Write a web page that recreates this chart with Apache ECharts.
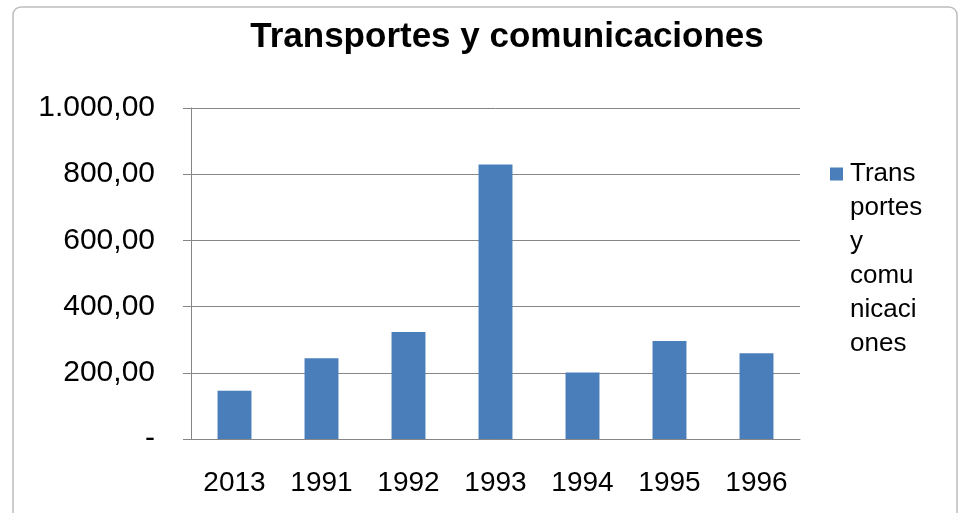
<!DOCTYPE html>
<html>
<head>
<meta charset="utf-8">
<script src="https://cdn.jsdelivr.net/npm/echarts@6/dist/echarts.min.js"></script>
<style>
  html, body { margin: 0; padding: 0; background: #fff; }
  #chart { width: 962px; height: 513px; }
</style>
</head>
<body>
<div id="chart"></div>
<script>
const title = 'Transportes y comunicaciones'
const categories = ['2013', '1991', '1992', '1993', '1994', '1995', '1996']
const values = [146, 244, 323, 829, 201, 296, 259]
const yTicks = [0, 200, 400, 600, 800, 1000]
const barColor = '#4a7ebb'

// 1.000,00 style, zero shown as a dash
function fmt(v) {
  if (v === 0) return '-'
  let parts = v.toFixed(2).split('.')
  parts[0] = parts[0].replace(/\B(?=(\d{3})+(?!\d))/g, '.')
  return parts.join(',')
}

let chart = echarts.init(document.getElementById('chart'))
let option = {
  animation: false,
  backgroundColor: '#fff',
  textStyle: { fontFamily: 'Liberation Sans, Arial, sans-serif' },
  title: {
    text: title,
    left: 502,
    textAlign: 'center',
    top: 15,
    textStyle: {
      fontSize: 35,
      fontWeight: 'bold',
      color: '#000',
      fontFamily: 'Liberation Sans, Arial, sans-serif',
    },
  },
  graphic: [
    {
      type: 'rect',
      shape: { x: 13, y: 7, width: 944, height: 520, r: 8 },
      style: { fill: 'none', stroke: '#bdbdbd', lineWidth: 1.5 },
      silent: true,
    },
  ],
  legend: {
    data: [title],
    orient: 'vertical',
    left: 820,
    top: 152,
    itemWidth: 0,
    itemHeight: 0,
    itemGap: 0,
    icon: 'rect',
    // the square sits beside the first line, as in the picture
    formatter: () => '{sq|}{f|Trans}\n{t|portes}\n{t|y}\n{t|comu}\n{t|nicaci}\n{t|ones}',
    textStyle: {
      fontSize: 26,
      lineHeight: 34,
      color: '#000',
      rich: {
        sq: { width: 13, height: 13, backgroundColor: barColor, align: 'left' },
        f: { fontSize: 26, lineHeight: 34, padding: [0, 0, 0, 7], color: '#000' },
        t: { fontSize: 26, lineHeight: 34, padding: [0, 0, 0, 20], color: '#000' },
      },
    },
  },
  grid: {
    left: 191,
    right: 162,
    top: 108,
    bottom: 74,
  },
  xAxis: {
    type: 'category',
    data: categories,
    axisLine: { lineStyle: { color: '#868686', width: 1 } },
    axisTick: { length: 8, lineStyle: { color: '#868686' } },
    axisLabel: { fontSize: 28, color: '#000', margin: 30 },
  },
  yAxis: {
    type: 'value',
    min: yTicks[0],
    max: yTicks[yTicks.length - 1],
    interval: 200,
    axisLine: { show: true, lineStyle: { color: '#868686', width: 1 } },
    axisTick: { show: true, length: 8, lineStyle: { color: '#868686' } },
    axisLabel: { fontSize: 30, color: '#000', margin: 36, formatter: fmt },
    splitLine: { lineStyle: { color: '#868686', width: 1 } },
  },
  series: [
    {
      name: title,
      type: 'bar',
      data: values,
      barWidth: '39%',
      itemStyle: { color: barColor },
    },
  ],
}
chart.setOption(option)
</script>
</body>
</html>
